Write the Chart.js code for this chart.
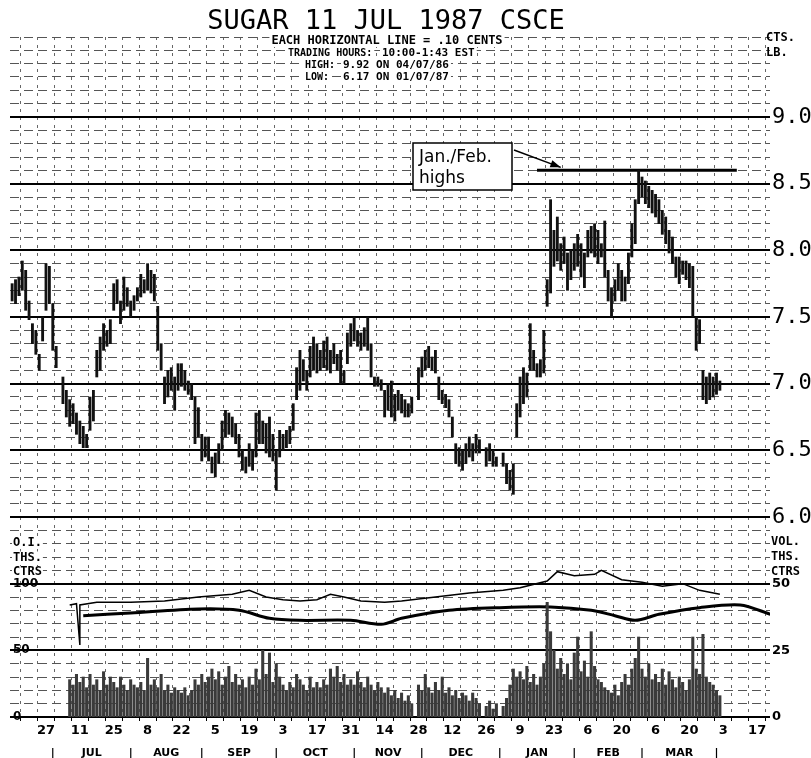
<!DOCTYPE html>
<html>
<head>
<meta charset="utf-8">
<title>Sugar 11 July 1987 CSCE</title>
<script src="https://cdn.jsdelivr.net/npm/chart.js@4.4.1/dist/chart.umd.min.js"></script>
<style>
  html, body { margin: 0; padding: 0; background: #fff; }
  canvas { display: block; }
</style>
</head>
<body>
<canvas id="chart" width="811" height="758"></canvas>
<script>
// trading-day index: 0 = Fri 27 Jun 1986, 5 days per week
const firstDay = -10;
const priceHigh = [
  7.75, 7.78, 7.80, 7.92, 7.85, 7.62, 7.45, 7.40, 7.22, 7.50,
  7.90, 7.88, 7.60, 7.28, null, 7.05, 6.95, 6.88, 6.85, 6.78,
  6.72, 6.68, 6.62, 6.90, 6.95, 7.25, 7.35, 7.45, 7.40, 7.48,
  7.75, 7.78, 7.62, 7.80, 7.72, 7.62, 7.66, 7.72, 7.82, 7.78,
  7.90, 7.85, 7.82, 7.58, 7.30, 7.05, 7.10, 7.12, 7.05, 7.15,
  7.15, 7.10, 7.02, 7.00, 6.90, 6.82, 6.62, 6.60, 6.60, 6.45,
  6.48, 6.55, 6.72, 6.80, 6.78, 6.75, 6.70, 6.62, 6.50, 6.45,
  6.55, 6.50, 6.78, 6.80, 6.72, 6.70, 6.75, 6.62, 6.50, 6.65,
  6.62, 6.65, 6.68, 6.85, 7.12, 7.25, 7.18, 7.10, 7.28, 7.35,
  7.30, 7.25, 7.32, 7.35, 7.25, 7.30, 7.22, 7.25, 7.10, 7.38,
  7.45, 7.50, 7.40, 7.38, 7.42, 7.50, 7.30, 7.05, 7.05, 7.03,
  6.95, 7.00, 7.02, 6.92, 6.95, 6.92, 6.88, 6.85, 6.90, null,
  7.12, 7.20, 7.25, 7.28, 7.20, 7.25, 7.05, 6.95, 6.92, 6.88,
  6.75, 6.55, 6.52, 6.50, 6.55, 6.60, 6.55, 6.62, 6.58, null,
  6.52, 6.55, 6.50, 6.45, null, 6.48, 6.40, 6.35, 6.40, 6.85,
  7.05, 7.12, 7.08, 7.45, 7.25, 7.15, 7.18, 7.40, 7.78, 8.38,
  8.15, 8.25, 8.05, 8.10, 7.98, 8.00, 8.05, 8.12, 8.05, 7.98,
  8.15, 8.18, 8.20, 8.15, 8.05, 8.22, 7.85, 7.72, 7.78, 7.90,
  7.85, 7.80, 7.98, 8.20, 8.38, 8.60, 8.55, 8.52, 8.48, 8.45,
  8.42, 8.38, 8.30, 8.25, 8.15, 8.10, 7.95, 7.95, 7.92, 7.92,
  7.90, 7.88, 7.50, 7.48, 7.10, 7.05, 7.08, 7.05, 7.08, 7.02
];
const priceLow = [
  7.62, 7.60, 7.66, 7.70, 7.55, 7.48, 7.30, 7.22, 7.10, 7.32,
  7.55, 7.60, 7.25, 7.12, null, 6.85, 6.75, 6.68, 6.70, 6.62,
  6.55, 6.52, 6.52, 6.65, 6.72, 7.05, 7.10, 7.25, 7.28, 7.30,
  7.55, 7.60, 7.45, 7.55, 7.58, 7.50, 7.55, 7.62, 7.65, 7.68,
  7.70, 7.68, 7.62, 7.25, 7.10, 6.85, 6.90, 6.95, 6.80, 6.95,
  6.98, 6.95, 6.92, 6.88, 6.55, 6.60, 6.42, 6.45, 6.42, 6.33,
  6.30, 6.40, 6.50, 6.60, 6.62, 6.60, 6.55, 6.45, 6.35, 6.33,
  6.38, 6.35, 6.45, 6.55, 6.55, 6.48, 6.45, 6.42, 6.20, 6.45,
  6.50, 6.52, 6.55, 6.65, 6.88, 6.95, 7.02, 6.95, 7.05, 7.10,
  7.08, 7.10, 7.12, 7.10, 7.08, 7.15, 7.10, 7.00, 7.00, 7.15,
  7.28, 7.32, 7.28, 7.25, 7.28, 7.25, 7.05, 6.98, 6.98, 6.95,
  6.75, 6.80, 6.75, 6.72, 6.80, 6.78, 6.75, 6.75, 6.78, null,
  6.88, 7.05, 7.10, 7.12, 7.10, 7.08, 6.88, 6.85, 6.82, 6.75,
  6.60, 6.40, 6.38, 6.35, 6.40, 6.45, 6.42, 6.48, 6.48, null,
  6.38, 6.42, 6.38, 6.38, null, 6.38, 6.25, 6.20, 6.17, 6.60,
  6.75, 6.85, 6.90, 7.10, 7.10, 7.05, 7.05, 7.08, 7.58, 7.68,
  7.88, 7.92, 7.85, 7.90, 7.70, 7.78, 7.85, 7.88, 7.80, 7.72,
  7.95, 7.98, 7.95, 7.90, 7.95, 7.80, 7.62, 7.50, 7.62, 7.70,
  7.62, 7.62, 7.75, 7.95, 8.05, 8.35, 8.40, 8.35, 8.32, 8.28,
  8.25, 8.20, 8.12, 8.05, 7.98, 7.90, 7.80, 7.75, 7.82, 7.78,
  7.72, 7.50, 7.25, 7.30, 6.88, 6.85, 6.88, 6.90, 6.92, 6.95
];

// volume, thousand contracts, from day 7 on
const volStart = 7;
const volume = [
  14, 12, 16,
  13, 15, 11, 16, 12, 14, 10, 17, 12, 15,
  13, 11, 15, 12, 10, 14, 12, 11, 13, 10,
  22, 12, 14, 11, 16, 10, 12, 9, 11, 10,
  9, 11, 8, 10, 14, 12, 16, 13, 15, 18,
  14, 17, 12, 15, 19, 13, 16, 12, 14, 11,
  15, 12, 18, 14, 25, 16, 24, 13, 20, 15,
  12, 10, 13, 11, 16, 14, 12, 10, 15, 11,
  13, 11, 14, 12, 18, 15, 19, 13, 16, 12,
  14, 12, 17, 13, 11, 15, 12, 10, 13, 11,
  9, 11, 8, 10, 7, 9, 6, 8, 5, null,
  12, 10, 16, 11, 9, 13, 10, 15, 9, 11,
  8, 10, 7, 9, 8, 6, 9, 7, 5, null,
  4, 6, 3, 5, null, 4, 7, 12, 18, 15,
  17, 14, 19, 13, 16, 12, 15, 20, 43, 32,
  25, 18, 22, 16, 20, 14, 24, 30, 17, 21,
  15, 32, 19, 14, 13, 11, 10, 9, 12, 8,
  13, 16, 12, 18, 22, 30, 18, 15, 20, 14,
  16, 13, 18, 12, 17, 14, 11, 15, 13, 10,
  14, 30, 18, 16, 31, 15, 13, 12, 10, 8
];

// open interest, thousand contracts
const oiDays = [7, 9, 10, 10, 15, 25, 35, 45, 55, 60, 65, 70, 75, 80, 84, 88, 93, 100, 105, 115, 125, 135, 140, 148, 151, 156, 162, 164, 170, 176, 182, 188, 193, 199];
const oiValues = [84, 85, 54, 84, 86, 86, 87, 90, 92, 95, 90, 88, 87, 88, 92, 90, 87, 86, 87, 90, 93, 95, 97, 102, 109, 106, 107, 110, 103, 101, 98, 100, 95, 92];
const avgDays = [11, 25, 45, 57, 66, 75, 90, 99, 105, 119, 134, 149, 161, 168, 174, 181, 193, 205, 214];
const avgValues = [76, 78, 81, 80, 74, 72.5, 72.5, 69.5, 74, 80, 82, 82.5, 80, 76, 72.5, 77, 82, 84, 77];

const highsDays = [145, 204];
const highsLevel = [8.6, 8.6];

const dayLabels = ['27', '11', '25', '8', '22', '5', '19', '3', '17', '31', '14', '28', '12', '26', '9', '23', '6', '20', '6', '20', '3', '17'];
const monthNames = ['JUL', 'AUG', 'SEP', 'OCT', 'NOV', 'DEC', 'JAN', 'FEB', 'MAR'];
const monthStarts = [2, 25, 46, 68, 91, 111, 134, 156, 176, 198];

const priceMin = 4.5, priceMax = 9.6, volMax = 255, oiMax = 510;
const mono = '"DejaVu Sans Mono", "Liberation Mono", monospace';
const sans = '"DejaVu Sans", "Liberation Sans", sans-serif';

const priceBars = [];
priceHigh.forEach((h, i) => {
  if (h != null) priceBars.push({ x: firstDay + i, y: [priceLow[i], h] });
});
const volBars = [];
volume.forEach((v, i) => {
  if (v != null) volBars.push({ x: volStart + i, y: v });
});

const tenths = v => Math.round(v * 10);
const isMajor = v => { const t = tenths(v); return t % 5 === 0 && t <= 90; };

const paperText = {
  id: 'paperText',
  afterDraw(chart) {
    const c = chart.ctx;
    c.save();
    c.fillStyle = '#000';
    c.textBaseline = 'middle';

    c.textAlign = 'center';
    c.font = `27px ${mono}`;
    c.fillText('SUGAR 11 JUL 1987 CSCE', 386, 22);

    const label = (txt, x, y, font, align) => {
      c.font = font;
      c.textAlign = align || 'left';
      const w = c.measureText(txt).width;
      const x0 = align === 'center' ? x - w / 2 : x;
      c.fillStyle = '#fff';
      c.fillRect(x0 - 2, y - 6, w + 4, 12);
      c.fillStyle = '#000';
      c.fillText(txt, x, y);
    };
    label('EACH HORIZONTAL LINE = .10 CENTS', 387, 41, `bold 12px ${mono}`, 'center');
    label('TRADING HOURS:', 288, 53, `bold 10px ${mono}`);
    label('10:00-1:43 EST', 382, 53, `bold 11px ${mono}`);
    label('HIGH:', 305, 65, `bold 10px ${mono}`);
    label('9.92 ON 04/07/86', 343, 65, `bold 11px ${mono}`);
    label('LOW:', 305, 77, `bold 10px ${mono}`);
    label('6.17 ON 01/07/87', 343, 77, `bold 11px ${mono}`);

    c.textAlign = 'left';
    c.font = `bold 12px ${mono}`;
    c.fillText('CTS.', 766, 38);
    c.fillText('LB.', 766, 53);
    c.fillText('VOL.', 771, 542);
    c.fillText('THS.', 771, 557);
    c.fillText('CTRS', 771, 572);
    ['O.I.', 'THS.', 'CTRS'].forEach((t, i) => {
      const y = 543 + i * 14.5;
      const w = c.measureText(t).width;
      c.fillStyle = '#fff';
      c.fillRect(12, y - 6, w + 2, 12);
      c.fillStyle = '#000';
      c.fillText(t, 13, y);
    });

    // Jan./Feb. highs callout
    const xs = chart.scales.x, ys = chart.scales.y;
    c.fillStyle = '#fff';
    c.fillRect(413, 143, 99, 47);
    c.strokeStyle = '#000';
    c.lineWidth = 1.5;
    c.strokeRect(413, 143, 99, 47);
    c.fillStyle = '#000';
    c.font = `17px ${sans}`;
    c.fillText('Jan./Feb.', 419, 158);
    c.fillText('highs', 419, 179);
    const tipX = xs.getPixelForValue(highsDays[0] + 7);
    const tipY = ys.getPixelForValue(highsLevel[0]) - 3;
    const sx = 514, sy = 150;
    c.beginPath();
    c.moveTo(sx, sy);
    c.lineTo(tipX, tipY);
    c.lineWidth = 1.5;
    c.stroke();
    const a = Math.atan2(tipY - sy, tipX - sx);
    c.beginPath();
    c.moveTo(tipX, tipY);
    c.lineTo(tipX - 11 * Math.cos(a - 0.35), tipY - 11 * Math.sin(a - 0.35));
    c.lineTo(tipX - 11 * Math.cos(a + 0.35), tipY - 11 * Math.sin(a + 0.35));
    c.closePath();
    c.fill();
    c.restore();
  }
};

new Chart(document.getElementById('chart'), {
  data: {
    datasets: [
      {
        type: 'bar',
        label: 'High-low',
        data: priceBars,
        yAxisID: 'y',
        backgroundColor: '#111',
        barThickness: 2.2,
        grouped: false,
      },
      {
        type: 'bar',
        label: 'Volume',
        data: volBars,
        yAxisID: 'yVol',
        backgroundColor: '#3a3a3a',
        barThickness: 2.4,
        grouped: false,
      },
      {
        type: 'line',
        label: 'Open interest',
        data: oiDays.map((d, i) => ({ x: d, y: oiValues[i] })),
        yAxisID: 'yOI',
        borderColor: '#000',
        borderWidth: 1.5,
        pointRadius: 0,
        tension: 0,
      },
      {
        type: 'line',
        label: 'Average open interest',
        data: avgDays.map((d, i) => ({ x: d, y: avgValues[i] })),
        yAxisID: 'yOI',
        borderColor: '#000',
        borderWidth: 3,
        pointRadius: 0,
        tension: 0.3,
      },
      {
        type: 'line',
        label: 'Jan./Feb. highs',
        data: highsDays.map((d, i) => ({ x: d, y: highsLevel[i] })),
        yAxisID: 'y',
        borderColor: '#000',
        borderWidth: 3,
        pointRadius: 0,
      },
    ],
  },
  options: {
    responsive: false,
    animation: false,
    devicePixelRatio: 1,
    layout: { padding: { top: 37 } },
    plugins: {
      legend: { display: false },
      tooltip: { enabled: false },
    },
    scales: {
      x: {
        type: 'linear',
        position: 'bottom',
        weight: 1,
        min: -10.63,
        max: 213.8,
        offset: false,
        ticks: {
          stepSize: 5,
          includeBounds: false,
          autoSkip: false,
          maxRotation: 0,
          padding: 2,
          color: '#000',
          font: { family: sans, size: 13, weight: 'bold' },
          callback: v => (v % 10 === 0 && v >= 0 ? (dayLabels[v / 10] || '') : ''),
        },
        grid: { color: '#666', lineWidth: 1, tickLength: 4, tickColor: '#000' },
        border: { display: false, dash: [3, 5] },
        afterFit: s => { s.height = 22; },
      },
      x2: {
        type: 'linear',
        position: 'bottom',
        weight: 2,
        min: -10.63,
        max: 213.8,
        offset: false,
        afterBuildTicks: s => {
          const vals = monthStarts.slice();
          monthNames.forEach((m, i) => vals.push((monthStarts[i] + monthStarts[i + 1]) / 2));
          s.ticks = vals.sort((a, b) => a - b).map(v => ({ value: v }));
        },
        ticks: {
          autoSkip: false,
          maxRotation: 0,
          padding: 0,
          color: '#000',
          font: { family: sans, size: 11, weight: 'bold' },
          callback: v => {
            const i = monthStarts.indexOf(v);
            if (i >= 0) return '|';
            const k = monthStarts.findIndex((s, j) => (s + monthStarts[j + 1]) / 2 === v);
            return monthNames[k] || '';
          },
        },
        grid: { display: false },
        border: { display: false },
        afterFit: s => { s.height = 19; },
      },
      y: {
        type: 'linear',
        position: 'right',
        min: priceMin,
        max: priceMax,
        ticks: {
          stepSize: 0.1,
          autoSkip: false,
          padding: 2,
          color: '#000',
          font: ctx => (ctx.tick && tenths(ctx.tick.value) >= 60
            ? { family: mono, size: 22 }
            : { family: sans, size: 13, weight: 'bold' }),
          callback: v => {
            const t = tenths(v);
            if (t % 5 !== 0) return '';
            if (t >= 60 && t <= 90) return (t / 10).toFixed(1);
            if (t <= 55) return String(Math.round((v - priceMin) / (priceMax - priceMin) * volMax));
            return '';
          },
        },
        grid: {
          drawTicks: false,
          color: ctx => (ctx.tick && isMajor(ctx.tick.value) ? '#000' : '#555'),
          lineWidth: ctx => (ctx.tick && isMajor(ctx.tick.value) ? 2 : 1),
        },
        border: {
          display: false,
          dash: ctx => (ctx.tick && !isMajor(ctx.tick.value) ? [9, 5] : []),
        },
        afterFit: s => { s.width = 41; },
      },
      yVol: {
        type: 'linear',
        display: false,
        min: 0,
        max: volMax,
      },
      yOI: {
        type: 'linear',
        position: 'left',
        min: 0,
        max: oiMax,
        afterBuildTicks: s => { s.ticks = [0, 50, 100].map(v => ({ value: v })); },
        ticks: {
          mirror: true,
          padding: 3,
          color: '#000',
          font: { family: sans, size: 12, weight: 'bold' },
        },
        grid: { display: false },
        border: { display: false },
        afterFit: s => { s.width = 10; },
      },
    },
  },
  plugins: [paperText],
});
</script>
</body>
</html>
